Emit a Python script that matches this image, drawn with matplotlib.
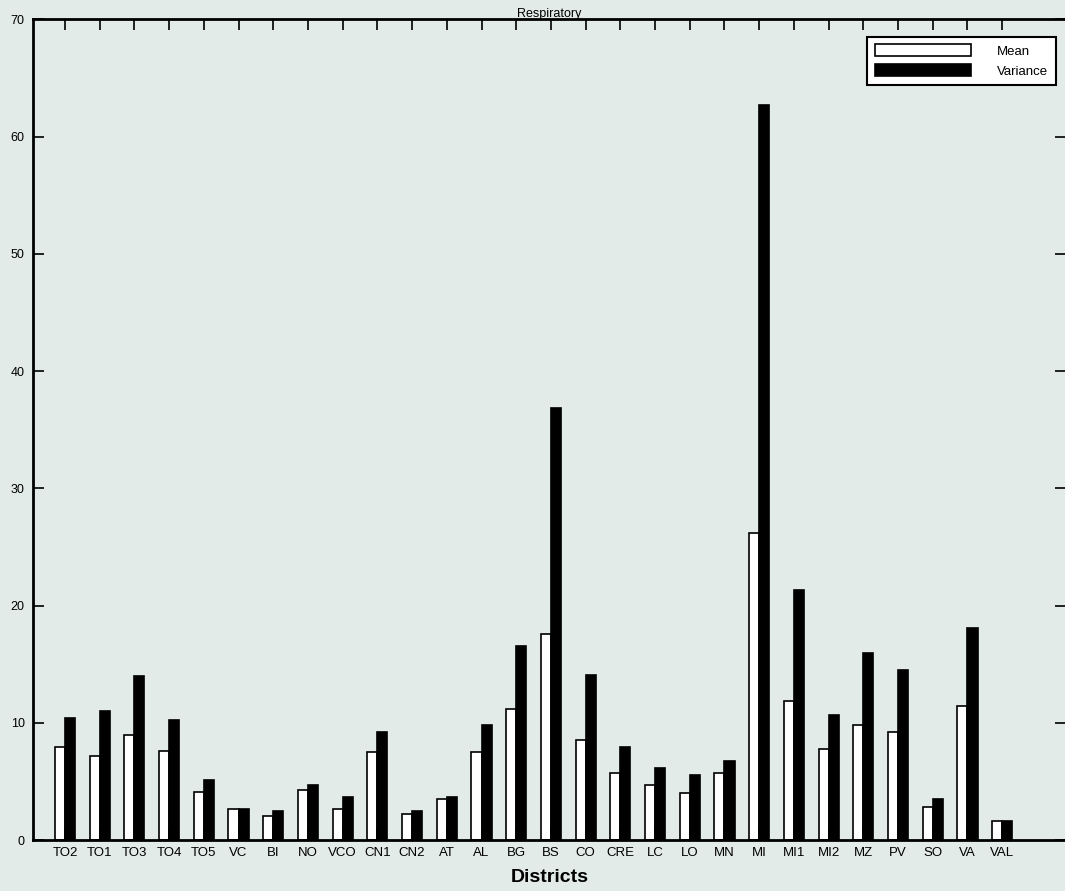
import matplotlib.pyplot as plt
import numpy as np

plt.rcParams['font.family'] = ['Liberation Sans', 'DejaVu Sans']

districts = ["TO2", "TO1", "TO3", "TO4", "TO5", "VC", "BI", "NO", "VCO", "CN1",
             "CN2", "AT", "AL", "BG", "BS", "CO", "CRE", "LC", "LO", "MN",
             "MI", "MI1", "MI2", "MZ", "PV", "SO", "VA", "VAL"]
mean = [7.95, 7.13, 8.98, 7.56, 4.07, 2.64, 2.02, 4.29, 2.64, 7.53,
        2.22, 3.47, 7.53, 11.2, 17.59, 8.55, 5.71, 4.66, 4.03, 5.71,
        26.15, 11.82, 7.76, 9.8, 9.18, 2.84, 11.45, 1.59]
variance = [10.43, 11.02, 13.95, 10.23, 5.11, 2.64, 2.44, 4.69, 3.67, 9.21,
            2.44, 3.67, 9.83, 16.55, 36.86, 14.12, 7.95, 6.11, 5.51, 6.73,
            62.66, 21.29, 10.63, 15.97, 14.52, 3.47, 18.05, 1.59]

bg = "#e2ebe8"
fig = plt.figure(figsize=(10.65, 8.91), dpi=100, facecolor=bg)
ax = fig.add_axes([0.031, 0.0572, 0.970, 0.921])
ax.set_facecolor(bg)

x = np.arange(1, len(districts) + 1)
w = 0.29
ax.bar(x - w / 2, mean, w, color="white", edgecolor="black", linewidth=1.2, label="Mean")
ax.bar(x + w / 2, variance, w, color="black", edgecolor="black", linewidth=1.2, label="Variance")

ax.set_xlim(0.08, 29.84)
ax.set_ylim(0, 70)
ax.set_xticks(x)
ax.set_xticklabels(districts, fontsize=9.5)
ax.set_yticks(range(0, 80, 10))
ax.tick_params(axis="y", labelsize=9, direction="in", length=8, width=1.2, right=True, pad=6)
ax.tick_params(axis="x", direction="in", length=8, width=1.2, top=True, pad=5)
for s in ax.spines.values():
    s.set_linewidth(2)

ax.set_title("Respiratory", fontsize=9, pad=2)
ax.set_xlabel("Districts", fontsize=14, fontweight="bold", labelpad=7)

leg = ax.legend(loc="upper right", bbox_to_anchor=(0.990, 0.979), fontsize=9.5,
                fancybox=False, framealpha=1, edgecolor="black",
                handlelength=7.3, handleheight=1.05, handletextpad=2.0,
                borderpad=0.55, labelspacing=0.5, borderaxespad=0)
leg.get_frame().set_linewidth(1.5)

plt.savefig("out.png", dpi=100, facecolor=bg)
